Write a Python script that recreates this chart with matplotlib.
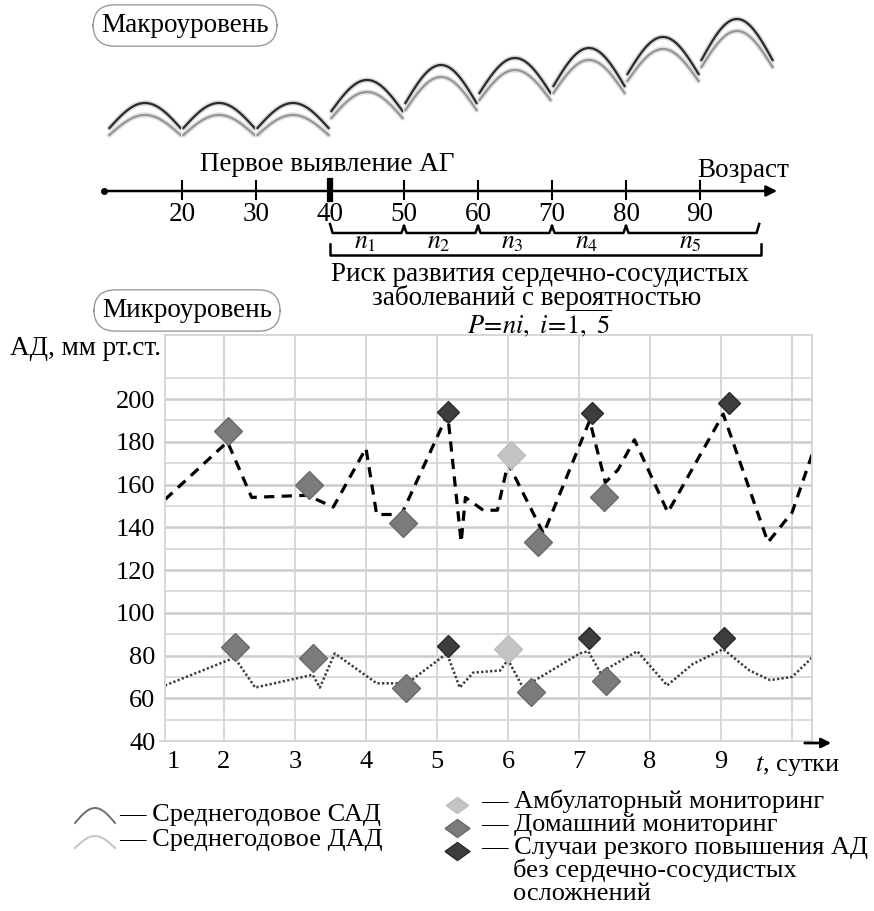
import numpy as np
import matplotlib.pyplot as plt
from matplotlib.path import Path

plt.rcParams['font.family'] = ['Liberation Serif', 'DejaVu Serif']
plt.rcParams['mathtext.fontset'] = 'stix'

W, H = 874, 911
FS = 19.5      # основной текст
FS_T = 19      # подписи делений
FS_L = 19      # легенда

# --- Макроуровень: среднегодовое АД по десятилетиям (условные уровни, px) ---
decades = [10, 20, 30, 40, 50, 60, 70, 80, 90]
arch_base = [128, 128, 128, 111, 103, 93, 86, 74, 60]
arch_peak = [103, 103, 103, 80, 65, 58, 48, 37, 19]

age_ticks = [20, 30, 40, 50, 60, 70, 80, 90]
first_detect = 40
risk_bounds = [40, 50, 60, 70, 80, 98]
risk_names = ['$n_1$', '$n_2$', '$n_3$', '$n_4$', '$n_5$']

# --- Микроуровень: АД по суткам ---
t_sad = [1.17, 2.05, 2.39, 3.17, 3.54, 4.0, 4.15, 4.5, 5.15, 5.34, 5.40, 5.65,
         5.85, 6.0, 6.5, 7.15, 7.37, 7.55, 7.78, 8.25, 9.03, 9.66, 10.0, 10.28]
sad = [153, 180, 154, 155, 149.5, 177, 146, 146, 193, 133, 154, 148,
       148, 170, 137, 190, 161, 167, 181, 147, 193, 133, 147, 174]

t_dad = [1.17, 2.15, 2.44, 3.25, 3.35, 3.56, 4.15, 4.58, 5.14, 5.32, 5.51, 5.89,
         6.0, 6.21, 7.01, 7.13, 7.3, 7.82, 8.24, 8.6, 9.03, 9.4, 9.69, 10.0, 10.28]
dad = [66, 79, 65, 71, 65, 81, 67, 67, 81, 65, 72, 73,
       78, 65, 81, 82, 72, 82, 66, 76, 83, 73, 68.5, 70, 79]

amb_t = [6.04, 6.0]
amb_v = [174, 83]
home_t = [2.06, 3.2, 4.52, 6.42, 7.35, 2.15, 3.25, 4.56, 6.32, 7.38]
home_v = [185, 160, 142, 133, 154, 84, 79, 65, 63, 68]
crisis_t = [5.15, 7.18, 9.11, 5.15, 7.14, 9.04]
crisis_v = [194, 193.5, 198, 84.5, 88, 88]

x_ticks = [1.28, 2, 3, 4, 5, 6, 7, 8, 9]
x_labels = ['1', '2', '3', '4', '5', '6', '7', '8', '9']
y_ticks = [40, 60, 80, 100, 120, 140, 160, 180, 200]

legend_right = ['— Амбулаторный мониторинг', '— Домашний мониторинг',
                '— Случаи резкого повышения АД']
legend_colors = [('#c4c4c4', '#bdbdbd'), ('#7b7b7b', '#6a6a6a'), ('#3d3d3d', '#2a2a2a')]

fig = plt.figure(figsize=(W / 100, H / 100), dpi=100)

# --- основной график ---
ax = fig.add_axes([165 / W, 1 - 741 / H, (812 - 165) / W, (741 - 335) / H])
ax.set_xlim(1.17, 10.28)
ax.set_ylim(40, 230)
for y in range(50, 220, 10):
    ax.axhline(y, color='#d4d4d4' if y % 20 else '#cccccc',
               lw=1.2 if y % 20 else 1.8, zorder=0)
for x in range(2, 11):
    ax.axvline(x, color='#d4d4d4', lw=1.3, zorder=0)
for s in ax.spines.values():
    s.set_color('#d4d4d4')
    s.set_linewidth(1.3)

ax.plot(t_sad, sad, color='black', lw=2.3, linestyle=(0, (3.2, 2.3)), zorder=2)
ax.plot(t_dad, dad, color='#3a3a3a', lw=1.8, linestyle=(0, (0.9, 0.9)), zorder=2)

ax.plot(home_t, home_v, 'D', ms=14, color='#7b7b7b', mec='#6a6a6a', mew=1, zorder=3)
ax.plot(amb_t, amb_v, 'D', ms=14, color='#c4c4c4', mec='#bdbdbd', mew=1, zorder=3)
ax.plot(crisis_t, crisis_v, 'D', ms=11, color='#3d3d3d', mec='#2a2a2a', mew=1, zorder=3)

ax.set_yticks(y_ticks)
ax.set_yticklabels([str(v) for v in y_ticks], fontsize=FS_T)
ax.set_xticks(x_ticks)
ax.set_xticklabels(x_labels, fontsize=FS_T)
ax.tick_params(length=0, pad=7)

# --- слой в пикселях для подписей и легенды ---
axp = fig.add_axes([0, 0, 1, 1], zorder=5)
axp.set_xlim(0, W)
axp.set_ylim(H, 0)
axp.axis('off')
axp.patch.set_visible(False)

box = dict(boxstyle='round,pad=0.3,rounding_size=0.8', fc='white', ec='#9a9a9a', lw=1)
axp.text(185, 32, 'Макроуровень', fontsize=FS, ha='center', va='baseline', bbox=box)
axp.text(187, 317, 'Микроуровень', fontsize=FS, ha='center', va='baseline', bbox=box)
axp.text(10, 355, 'АД, мм рт.ст.', fontsize=FS, ha='left', va='baseline')

axp.plot([160, 165], [741, 741], color='#d4d4d4', lw=1.3)
axp.annotate('', xy=(834, 743), xytext=(802, 743),
             arrowprops=dict(arrowstyle='-|>', color='black', lw=2, mutation_scale=14))
axp.text(755, 771, '$t$, сутки', fontsize=FS_T, ha='left', va='baseline')

axp.text(540, 281, 'Риск развития сердечно-сосудистых', fontsize=FS,
         ha='center', va='baseline')
axp.text(537, 305, 'заболеваний с вероятностью', fontsize=FS,
         ha='center', va='baseline')
axp.text(539, 334, r'$P\!=\!ni,\ i\!=\!\overline{1,\ 5}$', fontsize=FS - 0.5,
         ha='center', va='baseline')

# легенда слева
tt = np.linspace(0, 1, 40)
axp.plot(75 + 40 * tt, 823 - 15 * np.sin(np.pi * tt), color='#6e6e6e', lw=1.4)
axp.plot(75 + 40 * tt, 848 - 12 * np.sin(np.pi * tt), color='#c4c4c4', lw=1.4)
axp.text(119, 821, '— Среднегодовое САД', fontsize=FS_L, va='baseline')
axp.text(119, 846, '— Среднегодовое ДАД', fontsize=FS_L, va='baseline')

# легенда справа (приплюснутые ромбы)
flat_diamond = Path([(-1, 0), (0, 0.72), (1, 0), (0, -0.72), (-1, 0)])
for i, (label, (fc, ec)) in enumerate(zip(legend_right, legend_colors)):
    yb = 808 + 23 * i
    axp.plot([457], [yb - 3], marker=flat_diamond, ms=18 if i != 0 else 16,
             color=fc, mec=ec)
    axp.text(481, yb, label, fontsize=FS_L, va='baseline')
axp.text(513, 877, 'без сердечно-сосудистых', fontsize=FS_L, va='baseline')
axp.text(513, 900, 'осложнений', fontsize=FS_L, va='baseline')

# --- слой возраста (x в годах, y в пикселях) ---
axa = fig.add_axes([0, 0, 1, 1], zorder=6)
axa.set_xlim(10 - 108 / 7.4, 10 + (W - 108) / 7.4)
axa.set_ylim(H, 0)
axa.axis('off')
axa.patch.set_visible(False)

for d, b, p in zip(decades, arch_base, arch_peak):
    xs = np.linspace(d + 0.2, d + 9.8, 60)
    s = np.sin(np.pi * (xs - d - 0.2) / 9.6)
    ys = b - (b - p) * s
    axa.plot(xs, ys + 7 + 5 * s, color='#e2e2e2', lw=3.8, solid_capstyle='round')
    axa.plot(xs, ys + 7 + 5 * s, color='#969696', lw=1.6)
    axa.plot(xs, ys, color='#d8d8d8', lw=3.8, solid_capstyle='round')
    axa.plot(xs, ys, color='#2a2a2a', lw=1.6)

axa.annotate('', xy=(100.8, 191), xytext=(9.5, 191),
             arrowprops=dict(arrowstyle='-|>', color='black', lw=1.8, mutation_scale=16))
axa.plot([9.5], [191], 'o', ms=4, color='black')
for a in age_ticks:
    axa.plot([a, a], [181, 199], color='black', lw=4.5 if a == first_detect else 1.5)
    axa.text(a, 221, str(a), fontsize=FS, ha='center', va='baseline')
axa.text(39.6, 171, 'Первое выявление АГ', fontsize=FS, ha='center', va='baseline')
axa.text(89.7, 177, 'Возраст', fontsize=FS, ha='left', va='baseline')

for i, (a, b) in enumerate(zip(risk_bounds[:-1], risk_bounds[1:])):
    y0a = 224 if i == 0 else 226
    y0b = 224 if i == len(risk_names) - 1 else 226
    axa.plot([a, a + 0.35, b - 0.35, b], [y0a, 233, 233, y0b], color='black', lw=1.8)
    axa.text((a + b) / 2 - 0.3, 248, risk_names[i], fontsize=FS - 1,
             ha='center', va='baseline')
axa.plot([risk_bounds[0], risk_bounds[0], risk_bounds[-1] + 0.3, risk_bounds[-1] + 0.3],
         [244, 255, 255, 244], color='black', lw=1.8)

fig.savefig('out.png', dpi=100)
